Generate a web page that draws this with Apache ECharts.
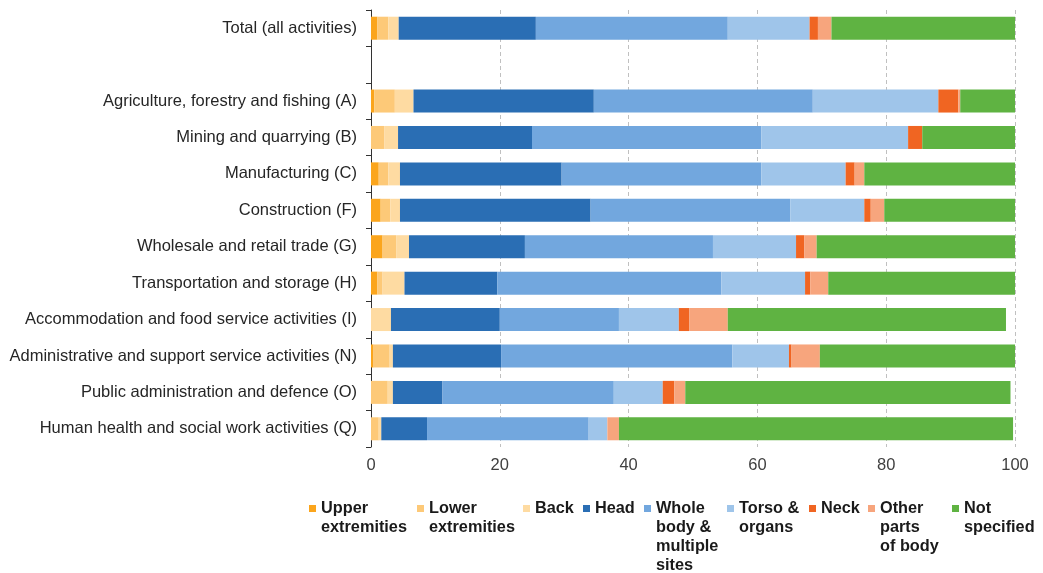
<!DOCTYPE html>
<html>
<head>
<meta charset="utf-8">
<script src="https://cdn.jsdelivr.net/npm/echarts@6/dist/echarts.min.js"></script>
<style>html,body{margin:0;padding:0;background:#fff}#c{width:1043px;height:573px}</style>
</head>
<body>
<div id="c"></div>
<script>
const categories = ['Total (all activities)', '', 'Agriculture, forestry and fishing (A)', 'Mining and quarrying (B)', 'Manufacturing (C)', 'Construction (F)', 'Wholesale and retail trade (G)', 'Transportation and storage (H)', 'Accommodation and food service activities (I)', 'Administrative and support service activities (N)', 'Public administration and defence (O)', 'Human health and social work activities (Q)'];
const seriesNames = ['Upper extremities', 'Lower extremities', 'Back', 'Head', 'Whole body & multiple sites', 'Torso & organs', 'Neck', 'Other parts of body', 'Not specified'];
const legendLabels = ['Upper\nextremities', 'Lower\nextremities', 'Back', 'Head', 'Whole\nbody &\nmultiple\nsites', 'Torso &\norgans', 'Neck', 'Other\nparts\nof body', 'Not\nspecified'];
const upper = [1.0, null, 0.5, 0, 1.2, 1.5, 1.8, 1.0, 0, 0.4, 0, 0];
const lower = [1.7, null, 3.2, 2.1, 1.5, 1.5, 2.1, 0.8, 0, 2.5, 2.6, 1.2];
const back = [1.6, null, 2.9, 2.1, 1.8, 1.5, 2.0, 3.4, 3.1, 0.5, 0.8, 0.4];
const head = [21.3, null, 28.0, 20.8, 25.1, 29.6, 18.0, 14.4, 16.9, 16.8, 7.7, 7.1];
const whole = [29.8, null, 34.0, 35.6, 31.0, 31.0, 29.2, 34.8, 18.5, 35.9, 26.6, 25.1];
const torso = [12.7, null, 19.5, 22.8, 13.1, 11.5, 12.9, 13.0, 9.3, 8.8, 7.6, 2.9];
const neck = [1.3, null, 3.1, 2.2, 1.4, 1.0, 1.3, 0.8, 1.6, 0.4, 1.8, 0];
const other = [2.1, null, 0.3, 0, 1.5, 2.1, 1.9, 2.8, 6.0, 4.4, 1.7, 1.8];
const notSpecified = [28.5, null, 8.5, 14.4, 23.4, 20.3, 30.8, 29.0, 43.2, 30.3, 50.5, 61.2];
const xTicks = [0, 20, 40, 60, 80, 100];

const seriesData = [upper, lower, back, head, whole, torso, neck, other, notSpecified];
const colors = ['#FBA51C', '#FDC978', '#FEDBA2', '#2A6EB4', '#72A7DE', '#9FC5EA', '#F06522', '#F7A57D', '#5FB342'];
const legendLeft = [309, 417, 523, 583, 644, 727, 809, 868, 952];
const FONT = "'Liberation Sans', Arial, sans-serif";
const LH = 19;
const firstLineCenter = 508.5;

const chart = echarts.init(document.getElementById('c'), null, {renderer: 'canvas'});

const legends = seriesNames.map((name, i) => {
  const n = legendLabels[i].split('\n').length;
  // prepend blank lines so the first text line sits level with the icon
  const label = '\n'.repeat(n - 1) + legendLabels[i];
  return {
    data: [name],
    left: legendLeft[i],
    top: firstLineCenter - (LH * (2 * n - 1)) / 2,
    orient: 'horizontal',
    padding: 0,
    itemWidth: 7,
    itemHeight: 7,
    icon: 'rect',
    selectedMode: false,
    formatter: () => label,
    textStyle: {
      fontFamily: FONT, fontSize: 16.3, fontWeight: 'bold', color: '#1a1a1a',
      lineHeight: LH
    }
  };
});

const option = {
  animation: false,
  backgroundColor: '#ffffff',
  color: colors,
  grid: {left: 371, right: 28, top: 10, bottom: 126, containLabel: false},
  legend: legends,
  xAxis: {
    type: 'value', min: 0, max: 100, interval: 20,
    axisLine: {show: false}, axisTick: {show: false},
    axisLabel: {fontFamily: FONT, fontSize: 16.5, color: '#404040', margin: 10,
      formatter: v => xTicks.includes(v) ? String(v) : ''},
    splitLine: {show: true, lineStyle: {color: '#C0C0C0', type: [4, 3], width: 1}}
  },
  yAxis: {
    type: 'category', data: categories, inverse: true,
    axisLine: {show: true, lineStyle: {color: '#333333', width: 1}},
    axisTick: {show: true, length: 5, lineStyle: {color: '#333333'}},
    axisLabel: {fontFamily: FONT, fontSize: 16.5, color: '#262626', margin: 14},
    splitLine: {show: false}
  },
  series: seriesNames.map((name, i) => ({
    name: name, type: 'bar', stack: 'total', barWidth: 23,
    data: seriesData[i],
    itemStyle: {color: colors[i]},
    emphasis: {disabled: true}
  }))
};
chart.setOption(option);
</script>
</body>
</html>
